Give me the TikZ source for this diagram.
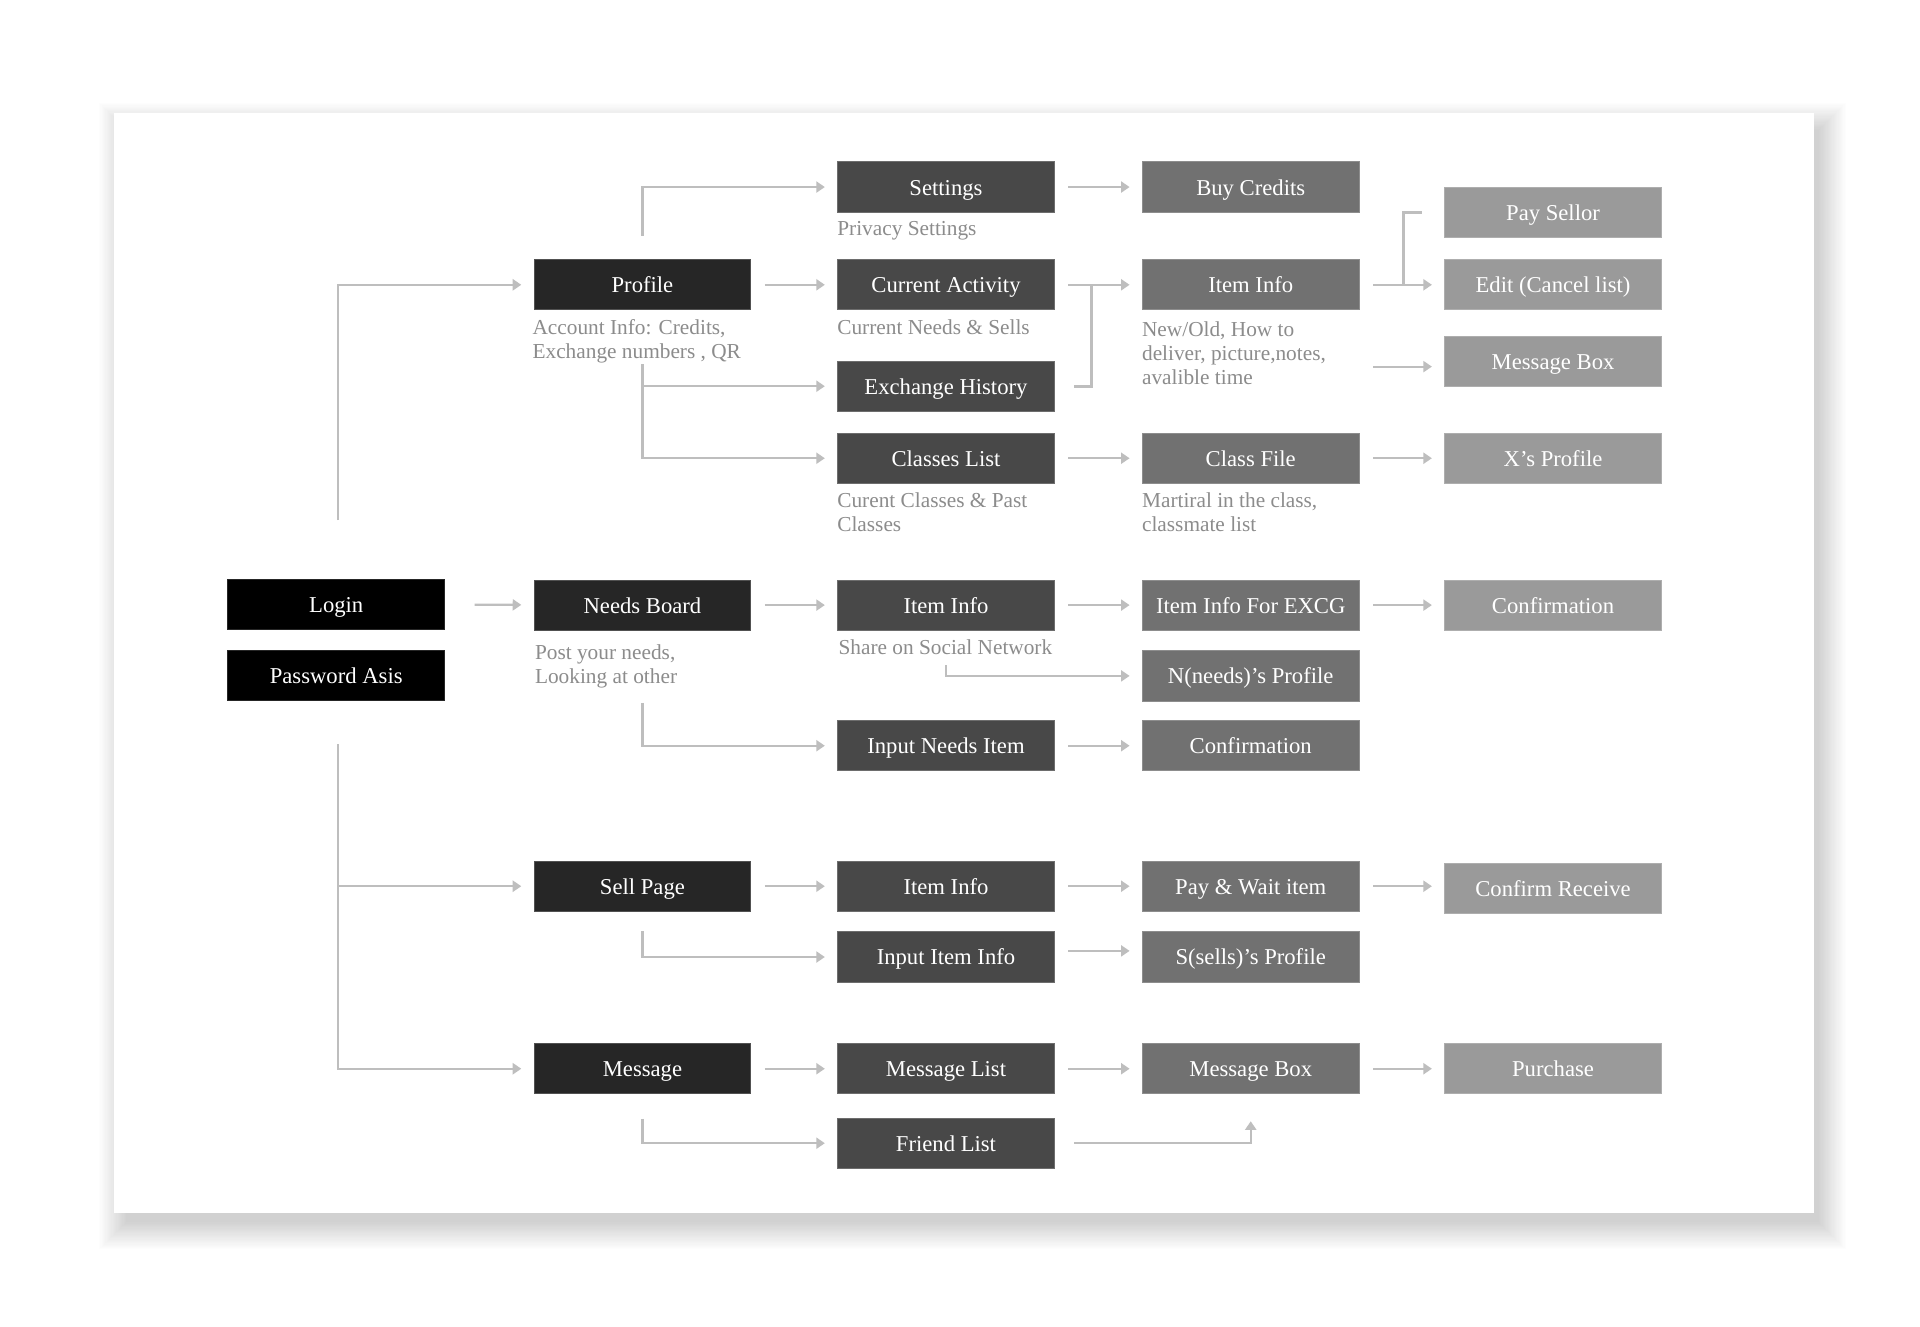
\documentclass[tikz,border=0pt]{standalone}
\usepackage{fontspec}
\setmainfont{Liberation Serif}
\usetikzlibrary{positioning,arrows.meta}

\definecolor{shadeB}{HTML}{262626}
\definecolor{shadeC}{HTML}{484848}
\definecolor{shadeD}{HTML}{717171}
\definecolor{shadeE}{HTML}{9A9A9A}
\definecolor{notegray}{HTML}{8C8C8C}
\definecolor{linegray}{HTML}{BEBEBE}

\begin{document}
\begin{tikzpicture}[x=1pt,y=-1pt,
		box/.style={rectangle,minimum width=177pt,minimum height=41pt,inner sep=0pt,
			text height=17pt,text depth=4pt,
			line width=0.8pt,text=white,font=\fontsize{18.5}{20}\selectfont},
		black node/.style={box,fill=black,draw=black!85!white},
		dark node/.style={box,fill=shadeB,draw=shadeB!80!white},
		mid node/.style={box,fill=shadeC,draw=shadeC!80!white},
		grey node/.style={box,fill=shadeD,draw=shadeD!80!white},
		light node/.style={box,fill=shadeE,draw=shadeE!80!white},
		note/.style={anchor=north west,align=left,inner sep=0pt,text=notegray,
			font=\fontsize{17.4}{19.5}\selectfont},
		link/.style={draw=linegray,line width=1.8pt,-{Triangle[length=7pt,width=9pt]},
			shorten <=11pt,shorten >=10pt},
		bracket/.style={draw=linegray,line width=2.6pt}]
		
		\useasboundingbox (0,0) rectangle (1567.5,1082.6);
		\foreach \i in {0,1,...,22}
		\fill[black,opacity=0.0095] ({103-\i},{106-\i}) rectangle ({1485+\i},{998+\i});
		\fill[white] (93,92) rectangle (1481,990);
		
		\node[black node] (login) at (274.5,493.5) {Login};
		\node[black node] (pwd) at (274.5,551.5) {Password Asis};
		\node[dark node] (profile) at (524.5,232.5) {Profile};
		\node[dark node] (needs) at (524.5,494) {Needs Board};
		\node[dark node] (sell) at (524.5,723.5) {Sell Page};
		\node[dark node] (msg) at (524.5,872.5) {Message};
		
		\node[mid node, right=70pt of profile] (activity) {Current Activity};
		\node[mid node, above=38pt of activity] (settings) {Settings};
		\node[mid node, below=41pt of activity] (history) {Exchange History};
		\node[mid node, below=17pt of history] (classes) {Classes List};
		\node[grey node, right=71pt of settings] (credits) {Buy Credits};
		\node[grey node, right=71pt of activity] (iteminfo) {Item Info};
		\node[grey node, right=71pt of classes] (classfile) {Class File};
		\node[light node, right=69pt of iteminfo] (edit) {Edit (Cancel list)};
		\node[light node, above=17pt of edit] (pay) {Pay Sellor};
		\node[light node, below=21pt of edit] (msgbox) {Message Box};
		\node[light node, right=69pt of classfile] (xprofile) {X's Profile};
		
		\node[mid node, right=70pt of needs] (needinfo) {Item Info};
		\node[grey node, right=71pt of needinfo] (excg) {Item Info For EXCG};
		\node[light node, right=69pt of excg] (confirm) {Confirmation};
		\node[grey node, below=16pt of excg] (nprofile) {N(needs)'s Profile};
		\node[mid node, below=73pt of needinfo] (inputneed) {Input Needs Item};
		\node[grey node, right=71pt of inputneed] (needconfirm) {Confirmation};
		
		\node[mid node, right=70pt of sell] (sellinfo) {Item Info};
		\node[grey node, right=71pt of sellinfo] (paywait) {Pay \& Wait item};
		\node[light node, right=69pt of paywait, yshift=-2pt] (receive) {Confirm Receive};
		\node[mid node, below=16pt of sellinfo] (inputitem) {Input Item Info};
		\node[grey node, right=71pt of inputitem] (sprofile) {S(sells)'s Profile};
		
		\node[mid node, right=70pt of msg] (msglist) {Message List};
		\node[grey node, right=71pt of msglist] (msgbox2) {Message Box};
		\node[light node, right=69pt of msgbox2] (purchase) {Purchase};
		\node[mid node, below=19pt of msglist] (friends) {Friend List};
		
		% grey notes under the boxes
		\node[note] (n-settings) at ([yshift=-7pt]settings.south west) {Privacy Settings};
		\node[note] (n-profile) at ([xshift=-1pt,yshift=-7pt]profile.south west) {Account Info: Credits,\\Exchange numbers , QR};
		\node[note] (n-activity) at ([yshift=-7pt]activity.south west) {Current Needs \& Sells};
		\node[note] (n-classes) at ([yshift=-7pt]classes.south west) {Curent Classes \& Past\\Classes};
		\node[note] (n-iteminfo) at ([yshift=-9pt]iteminfo.south west) {New/Old, How to\\deliver, picture,notes,\\avalible time};
		\node[note] (n-classfile) at ([yshift=-7pt]classfile.south west) {Martiral in the class,\\classmate list};
		\node[note] (n-needs) at ([xshift=1pt,yshift=-11pt]needs.south west) {Post your needs,\\Looking at other};
		\node[note] (n-needinfo) at ([xshift=1pt,yshift=-7pt]needinfo.south west) {Share on Social Network};
		
		% left tree
		\coordinate (up) at ([xshift=1.5pt,yshift=48pt]login.north);
		\coordinate (down) at ([xshift=1.5pt,yshift=-35pt]pwd.south);
		\draw[link,shorten <=0pt] (up) |- (profile);
		\draw[link,shorten <=0pt] (down) |- (sell);
		\draw[link,shorten <=0pt] (down) |- (msg);
		\draw[link,shorten <=24pt] (login) -- (needs);
		
		% profile branch
		\draw[link] (profile) -- (activity);
		\draw[link,shorten <=19pt] (profile.north) |- (settings);
		\draw[link,shorten <=44pt] (profile.south) |- (history);
		\draw[link,shorten <=44pt] (profile.south) |- (classes);
		\draw[link] (settings) -- (credits);
		\draw[link] (activity) -- (iteminfo);
		\draw[bracket] ([xshift=16pt]history.east) -| ([xshift=30pt]activity.east);
		\draw[link] (iteminfo) -- (edit);
		\draw[bracket] ([xshift=36pt]iteminfo.east) |- ([xshift=-18pt]pay.west);
		\draw[link] ([yshift=-4pt]iteminfo.east |- msgbox) -- ([yshift=-4pt]msgbox.west);
		\draw[link] (classes) -- (classfile);
		\draw[link] (classfile) -- (xprofile);
		
		% needs branch
		\draw[link] (needs) -- (needinfo);
		\draw[link] (needinfo) -- (excg);
		\draw[link] (excg) -- (confirm);
		\draw[link,shorten <=28pt] (needinfo.south) |- (nprofile);
		\draw[link,shorten <=59pt] (needs.south) |- (inputneed);
		\draw[link] (inputneed) -- (needconfirm);
		
		% sell branch
		\draw[link] (sell) -- (sellinfo);
		\draw[link] (sellinfo) -- (paywait);
		\draw[link] (paywait) -- (paywait -| receive.west);
		\draw[link,shorten <=16pt] (sell.south) |- (inputitem);
		\draw[link] ([yshift=5pt]inputitem.east) -- ([yshift=5pt]sprofile.west);
		
		% message branch
		\draw[link] (msg) -- (msglist);
		\draw[link] (msglist) -- (msgbox2);
		\draw[link] (msgbox2) -- (purchase);
		\draw[link,shorten <=20pt] (msg.south) |- (friends);
		\draw[link,shorten <=16pt,shorten >=22pt] (friends.east) -| (msgbox2.south);
		
\end{tikzpicture}
\end{document}
